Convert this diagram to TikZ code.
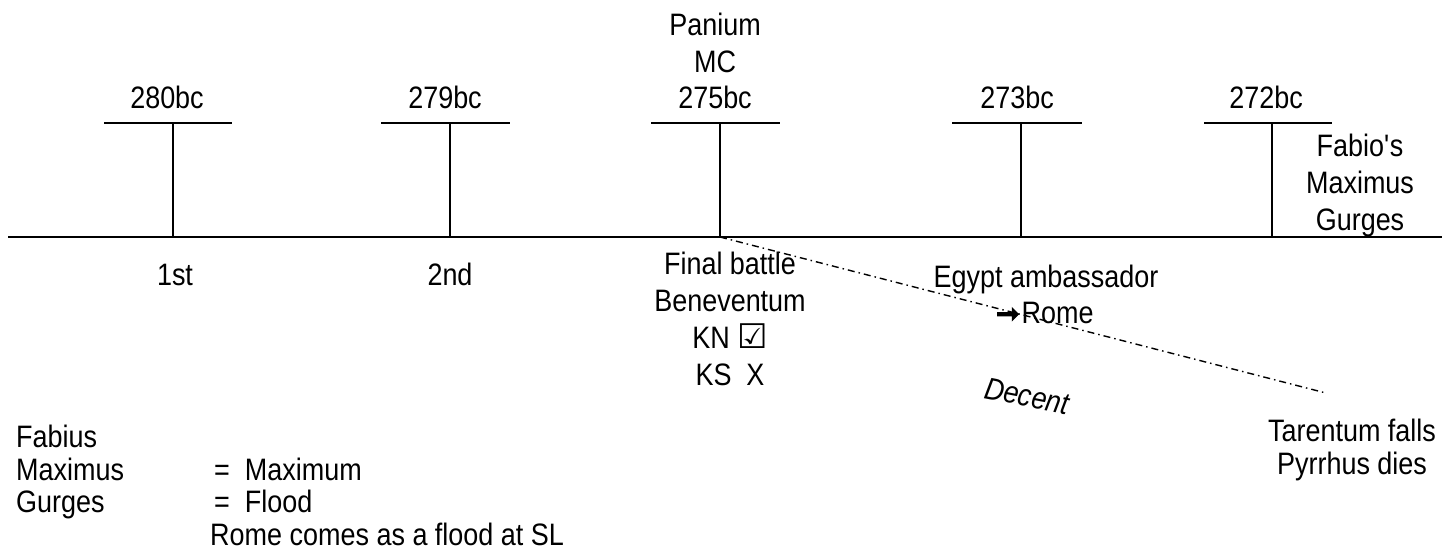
\documentclass[tikz,border=0pt]{standalone}
\usepackage{fontspec}
\setmainfont[FakeStretch=0.87]{Liberation Sans}
\newfontfamily\symfont{DejaVu Sans}
\newfontfamily\symbold[FakeBold=4]{DejaVu Sans}
\begin{document}
\begin{tikzpicture}[x=1pt,y=-1pt,
  txt/.style={anchor=base,inner sep=0pt,font=\fontsize{31}{36}\selectfont},
  ltxt/.style={txt,anchor=base west},
  axis/.style={line width=2pt},
  bar/.style={line width=1.6pt},
  tick/.style={line width=1.3pt},
  trend/.style={line width=1.4pt,dash pattern=on 7pt off 4pt on 1.5pt off 4pt}]
\useasboundingbox (0,0) rectangle (1442,554);
% axis
\coordinate (axL) at (8,237);
\coordinate (axR) at (1442,237);
\draw[axis] (axL) -- (axR);
% ticks
\foreach \n/\x/\a/\b in {t1/173/104/232, t2/450/381/510, t3/720/651/780, t4/1021/952/1082, t5/1272/1204/1332}{
  \coordinate (\n top) at (\x,123);
  \coordinate (\n bot) at (\x,237);
  \coordinate (\n l) at (\a,123);
  \coordinate (\n r) at (\b,123);
  \draw[bar] (\n l) -- (\n r);
  \draw[tick] (\n top) -- (\n bot);
}
% year labels
\node[txt] (y280) at (167,108) {280bc};
\node[txt] (y279) at (445,108) {279bc};
\node[txt] (pan) at (715,35) {Panium};
\node[txt] (mc) at (715,72) {MC};
\node[txt] (y275) at (715,108) {275bc};
\node[txt] (y273) at (1017,108) {273bc};
\node[txt] (y272) at (1266,108) {272bc};
% right label
\node[txt] (fab1) at (1360,156) {Fabio\textquotesingle s};
\node[txt] (fab2) at (1360,193) {Maximus};
\node[txt] (fab3) at (1360,230) {Gurges};
% below axis
\node[txt] (first) at (175,285) {1st};
\node[txt] (second) at (450,285) {2nd};
\node[txt] (fb1) at (730,274) {Final battle};
\node[txt] (fb2) at (730,311) {Beneventum};
\node[txt] (fb3) at (730,348) {KN {\symfont\fontsize{34}{34}\selectfont ☑}};
\node[txt] (fb4) at (730,385) {KS\ \ X};
\node[txt] (egy) at (1046,287) {Egypt ambassador};
\node[ltxt] (rome) at (996,323) {{\symbold\fontsize{28}{30}\selectfont ➞}\kern2pt Rome};
% trend line
\coordinate (trS) at (720,237);
\coordinate (trE) at (1326,393);
\draw[trend] (trS) -- (trE);
\node[txt,anchor=center,rotate=-11,font=\fontsize{31}{36}\selectfont\itshape] (dec) at (1027,396) {Decent};
\node[txt] (tar1) at (1352,441) {Tarentum falls};
\node[txt] (tar2) at (1352,474) {Pyrrhus dies};
% left block
\node[ltxt] (l1) at (16,447) {Fabius};
\node[ltxt] (l2) at (16,480) {Maximus};
\node[ltxt] (l3) at (16,512) {Gurges};
\node[ltxt] (r2) at (214,480) {=\ \ Maximum};
\node[ltxt] (r3) at (214,512) {=\ \ Flood};
\node[ltxt] (r4) at (210,545) {Rome comes as a flood at SL};
\end{tikzpicture}
\end{document}
